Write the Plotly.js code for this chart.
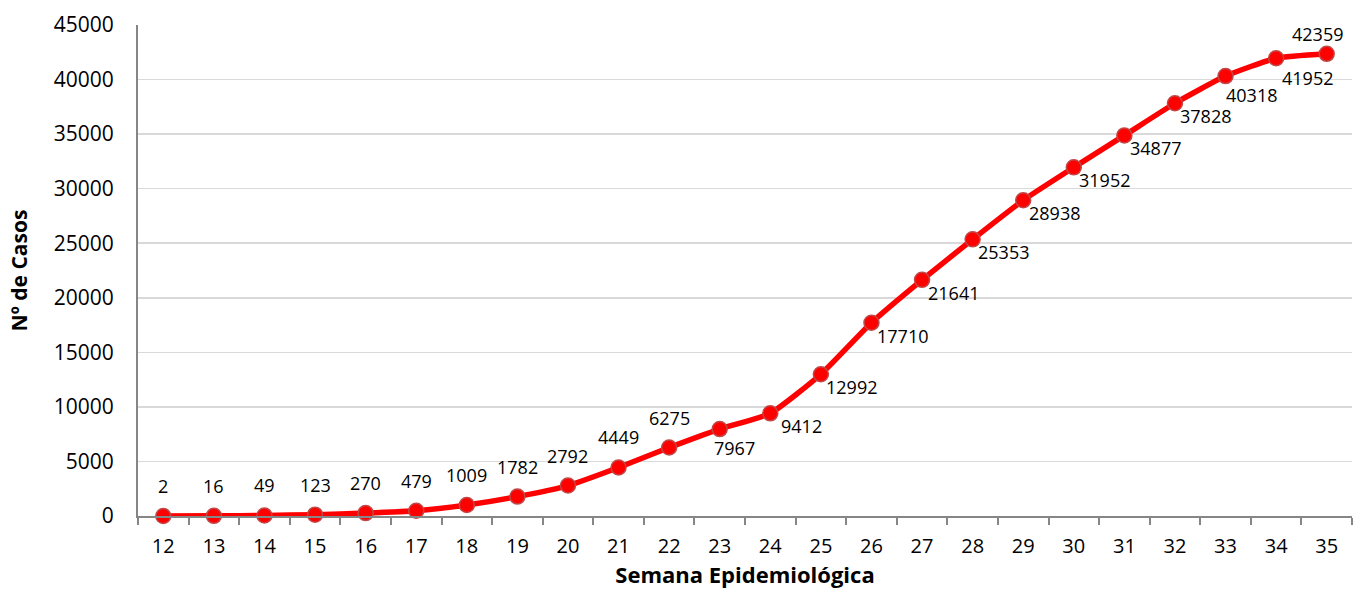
<!DOCTYPE html>
<html><head><meta charset="utf-8">
<script src="https://cdn.plot.ly/plotly-3.0.1.min.js"></script>
<style>html,body{margin:0;padding:0;background:#fff}#chart{width:1365px;height:590px}</style>
</head><body><div id="chart"></div>
<script>
const weeks = ["12","13","14","15","16","17","18","19","20","21","22","23","24","25","26","27","28","29","30","31","32","33","34","35"];
const cases = [2,16,49,123,270,479,1009,1782,2792,4449,6275,7967,9412,12992,17710,21641,25353,28938,31952,34877,37828,40318,41952,42359];

// label placement rule (style only, not data)
function labelOffset(week) {
  const n = +week;
  if (n <= 22) return [0, 30];
  if (n === 23) return [15, -19];
  if (n === 33) return [26, -19];
  if (n === 34) return [31, -20];
  if (n === 35) return [-9, 20];
  return [31, -13];
}

const trace = {
  x: weeks, y: cases, type: "scatter", mode: "lines+markers",
  line: {color: "#ff0000", width: 5.5, shape: "spline", smoothing: 0.5},
  marker: {color: "#ff0000", size: 15, line: {color: "#c04848", width: 1.5}},
  cliponaxis: false, hoverinfo: "x+y"
};
// annotations placed on the category axis by category index
const annotations = weeks.map((w, i) => {
  const [dx, dy] = labelOffset(w);
  return {
    x: i, y: cases[i], xref: "x", yref: "y", text: String(cases[i]),
    showarrow: false, xshift: dx, yshift: dy,
    font: {family: "Open Sans, sans-serif", size: 18, color: "#000"}
  };
});
const layout = {
  width: 1365, height: 590,
  margin: {l: 138, r: 13, t: 25, b: 74},
  paper_bgcolor: "#fff", plot_bgcolor: "#fff",
  showlegend: false,
  font: {family: "Open Sans, sans-serif", color: "#000"},
  annotations: annotations,
  xaxis: {
    type: "category", range: [-0.5, 23.5],
    showline: true, linecolor: "#868686", linewidth: 2,
    ticks: "outside", tickson: "boundaries", ticklen: 7, tickcolor: "#868686", tickwidth: 2,
    tickfont: {size: 20}, showgrid: false, zeroline: false, ticklabelstandoff: 11,
    title: {text: "Semana Epidemiológica", font: {size: 22, weight: "bold"}, standoff: 5}
  },
  yaxis: {
    range: [0, 45000], dtick: 5000, tickformat: "d",
    showline: true, linecolor: "#868686", linewidth: 2,
    ticks: "", showgrid: true, gridcolor: "#d9d9d9", gridwidth: 1.5,
    zeroline: false, tickfont: {size: 21}, ticklabelstandoff: 18,
    title: {text: "Nº de Casos", font: {size: 21, weight: "bold"}, standoff: 20}
  }
};
Plotly.newPlot("chart", [trace], layout, {displayModeBar: false, staticPlot: true});
</script></body></html>
